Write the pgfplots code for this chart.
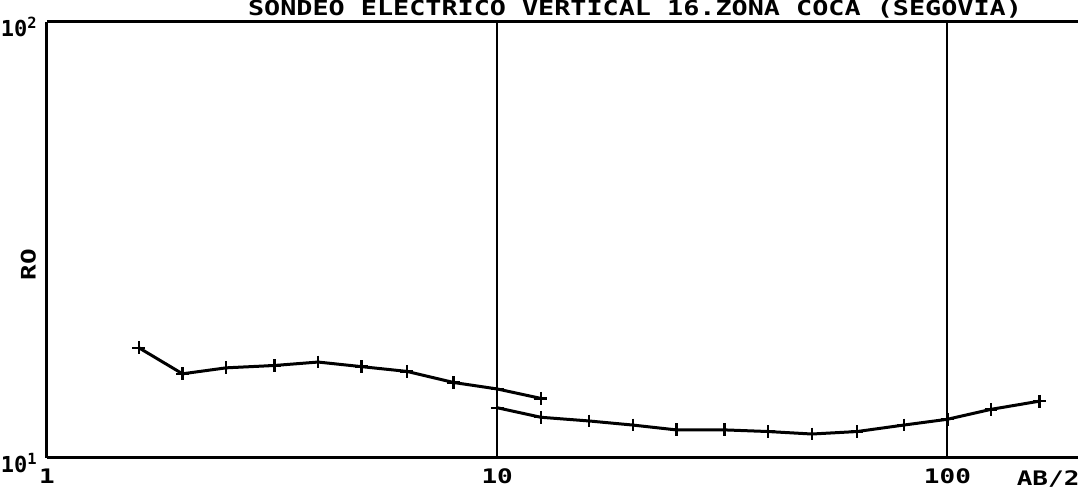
\documentclass[border=0pt]{standalone}
\usepackage{pgfplots}
\pgfplotsset{compat=1.18}
\usepackage{fontspec}
\setmainfont{DejaVu Sans Mono}
\newfontfamily\plotfont[FakeStretch=1.3]{DejaVu Sans Mono}
\newfontfamily\plotfontn{DejaVu Sans Mono}
\newcommand\pf{\plotfont\bfseries}
\begin{document}
\begin{tikzpicture}[x=1pt,y=1pt]
\useasboundingbox (0,0) rectangle (540,246.5);
\node[anchor=base, inner sep=0pt] at (317.5,238.5) {\pf\fontsize{10.3}{12}\selectfont SONDEO ELECTRICO VERTICAL 16.ZONA COCA (SEGOVIA)};
\begin{axis}[
  at={(23.5pt,17.5pt)}, anchor=south west, scale only axis,
  width=515.5pt, height=218pt,
  xmode=log, ymode=log,
  xmin=1, xmax=195, ymin=10, ymax=100,
  axis x line*=box, axis y line*=left,
  axis line style={line width=1.5pt, black},
  xtick={1,10,100}, xticklabels={1,10,100},
  ytick={10,100}, yticklabels={10\textsuperscript{1},10\textsuperscript{2}},
  major tick length=0pt, minor tick length=0pt,
  minor tick style={draw=none}, major tick style={draw=none},
  xmajorgrids=true,
  grid style={black, line width=1pt},
  tick label style={font=\pf\fontsize{10}{12}\selectfont},
  xticklabel style={yshift=-2pt},
  yticklabel style={font=\plotfontn\bfseries\fontsize{11}{13}\selectfont, yshift=-2.5pt, xshift=-3.5pt, inner sep=1pt},
  ylabel={RO},
  ylabel style={font=\pf\fontsize{10}{12}\selectfont, at={(axis description cs:-0.018,0.443)}, anchor=center, rotate=0},
  clip=false,
]
\addplot[black, line width=1.5pt, mark=+, mark size=3.2pt, mark options={line width=1.2pt}] coordinates {
(1.6,17.9) (2,15.6) (2.5,16.1) (3.2,16.3) (4,16.6) (5,16.2) (6.3,15.8) (8,14.9) (10,14.4) (12.5,13.7)
};
\addplot[black, line width=1.5pt, mark=+, mark size=3.2pt, mark options={line width=1.2pt}] coordinates {
(10,13.04) (12.5,12.4) (16,12.16) (20,11.9) (25,11.6) (32,11.6) (40,11.5) (50,11.35) (63,11.5) (80,11.9) (100,12.27) (125,12.93) (160,13.5)
};
\node[anchor=north, font=\pf\fontsize{10}{12}\selectfont] at (axis description cs:0.971,-0.012) {AB/2};
\end{axis}
\end{tikzpicture}
\end{document}
